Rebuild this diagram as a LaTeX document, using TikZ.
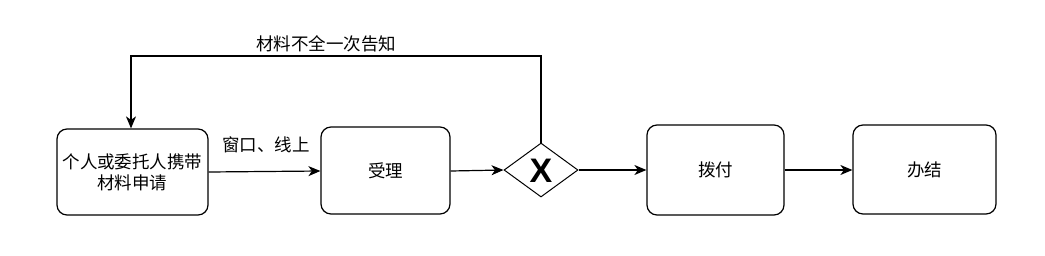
\documentclass[tikz,border=0pt]{standalone}
\usepackage{fontspec}
\setmainfont{Noto Sans CJK SC}
\newfontfamily\xfont{Liberation Sans}
\usetikzlibrary{arrows.meta,shapes.geometric,positioning}
\begin{document}
\begin{tikzpicture}[x=1pt,y=-1pt,
  box/.style={draw,line width=1.2pt,rounded corners=10pt,align=center,font=\fontsize{17.5}{21}\selectfont,inner sep=0pt},
  gate/.style={draw,line width=1pt,diamond,minimum width=74pt,minimum height=54pt,inner sep=0pt},
  conn/.style={line width=1.2pt,-{Stealth[length=12pt,width=10pt,inset=3.5pt]}},
  lbl/.style={font=\fontsize{17.5}{21}\selectfont}]
\useasboundingbox (0,0) rectangle (1045,255);
\node[box,minimum width=151pt,minimum height=86pt] (a) at (132.5,172) {个人或委托人携带\\材料申请};
\node[box,minimum width=129pt,minimum height=87pt] (b) at (385.5,170.5) {受理};
\node[gate] (g) at (541,170) {};
\node[font=\xfont\bfseries\fontsize{34}{34}\selectfont] (gx) at (541,171) {X};
\node[box,minimum width=137pt,minimum height=90pt] (c) at (715.5,170) {拨付};
\node[box,minimum width=143pt,minimum height=89pt] (d) at (924.5,169.5) {办结};
\coordinate (t1) at (541,56);
\coordinate (t2) at (131,56);
\draw[conn] (a.east |- 0,172) -- (b.west |- 0,171);
\draw[conn] (b.east |- 0,171) -- (g.west);
\draw[conn] (g.east) -- (c.west |- 0,170);
\draw[conn] (c.east |- 0,170) -- (d.west |- 0,170);
\draw[conn] (g.north) -- (t1) -- (t2) -- (a.north -| t2);
\node[lbl] (l1) at (326,44) {材料不全一次告知};
\node[lbl] (l2) at (266,145) {窗口、线上};
\end{tikzpicture}
\end{document}
